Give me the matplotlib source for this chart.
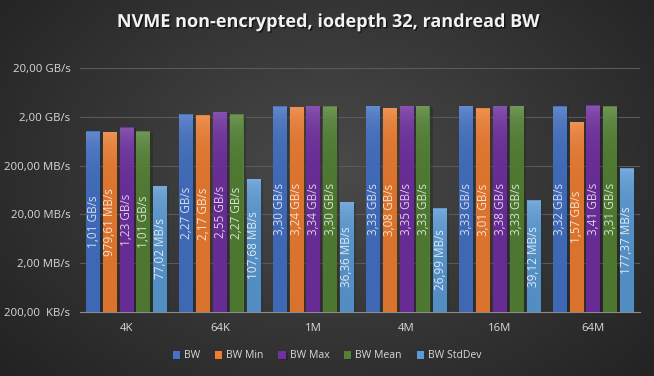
import numpy as np
import matplotlib.pyplot as plt
import matplotlib.patheffects as pe
from matplotlib.colors import to_rgb
from matplotlib.ticker import FixedLocator, NullLocator

categories = ["4K", "64K", "1M", "4M", "16M", "64M"]
series_names = ["BW", "BW Min", "BW Max", "BW Mean", "BW StdDev"]
# Werte in MB/s
bw = [1010, 2270, 3300, 3330, 3330, 3320]
bw_min = [979.61, 2170, 3240, 3080, 3010, 1570]
bw_max = [1230, 2550, 3340, 3350, 3380, 3410]
bw_mean = [1010, 2270, 3300, 3330, 3330, 3310]
bw_std = [77.02, 107.68, 36.36, 26.99, 39.12, 177.37]

tick_vals = [0.2, 2, 20, 200, 2000, 20000]
tick_labels = ["200,00  KB/s", "2,00 MB/s", "20,00 MB/s", "200,00 MB/s", "2,00 GB/s", "20,00 GB/s"]

colors = ["#4472C4", "#ED7D31", "#7030A0", "#548235", "#5B9BD5"]
label_colors = ["#d3dcf0", "#fbe0cc", "#ddccea", "#d5e3cc", "#dde9f5"]


def fmt(v):
    if v >= 1000:
        return f"{v / 1000:.2f} GB/s".replace(".", ",")
    return f"{v:.2f} MB/s".replace(".", ",")


def gradient(c):
    c = np.array(to_rgb(c))
    top = c + (1 - c) * 0.18
    bot = c * 0.92
    t = np.linspace(0, 1, 64)[:, None]
    g = top * (1 - t) + bot * t
    return g[:, None, :]


fig = plt.figure(figsize=(6.54, 3.76), dpi=100)
plt.rcParams["font.family"] = ["Open Sans", "DejaVu Sans"]

# Hintergrund: radialer Verlauf
bg = fig.add_axes([0, 0, 1, 1], zorder=-1)
yy, xx = np.mgrid[0:376, 0:654]
r = np.sqrt(((xx - 330) / 420.0) ** 2 + ((yy - 170) / 300.0) ** 2)
shade = np.clip(0.29 - 0.15 * r, 0.14, 0.30)
bg.imshow(np.dstack([shade, shade, shade]), aspect="auto", extent=[0, 1, 0, 1])
bg.axis("off")

ax = fig.add_axes([80 / 654, (376 - 312) / 376, 560 / 654, 244 / 376])
ax.set_facecolor("none")
ax.set_yscale("log")
ax.set_ylim(0.2, 20000)
ax.set_xlim(-0.5, len(categories) - 0.5)

x = np.arange(len(categories))
width = 0.15
pitch = 0.18
data = [bw, bw_min, bw_max, bw_mean, bw_std]

for i, (name, vals) in enumerate(zip(series_names, data)):
    pos = x + (i - 2) * pitch
    bars = ax.bar(pos, vals, width=width, bottom=0.2, color=colors[i], label=name, zorder=3)
    for b, p, v in zip(bars, pos, vals):
        b.set_path_effects([pe.SimplePatchShadow(offset=(1.5, -1), alpha=0.35), pe.Normal()])
        im = ax.imshow(gradient(colors[i]), extent=[p - width / 2, p + width / 2, 0.2, v],
                       aspect="auto", zorder=3.5, interpolation="bilinear")
        im.set_clip_path(b)
        ax.text(p, np.sqrt(0.2 * v), fmt(v), rotation=90, ha="center", va="center",
                fontsize=8.5, color=label_colors[i], zorder=4)

ax.set_ylim(0.2, 20000)
ax.set_xlim(-0.5, len(categories) - 0.5)
ax.yaxis.set_major_locator(FixedLocator(tick_vals))
ax.yaxis.set_minor_locator(NullLocator())
ax.set_yticklabels(tick_labels)
ax.set_xticks(x)
ax.set_xticklabels(categories)
ax.tick_params(axis="both", length=0, colors="#d9d9d9", labelsize=8.2)
ax.tick_params(axis="x", pad=8, labelsize=8.2)
ax.tick_params(axis="y", pad=7)
ax.grid(axis="y", color="#5a5a5a", linewidth=0.8, zorder=0)
for s in ["top", "right", "left"]:
    ax.spines[s].set_visible(False)
ax.spines["bottom"].set_color("#8c8c8c")

fig.text(0.5, 1 - 22 / 376, "NVME non-encrypted, iodepth 32, randread BW", ha="center", va="center",
         fontsize=13, fontweight="bold", color="#f2f2f2",
         path_effects=[pe.withSimplePatchShadow(offset=(1, -1), shadow_rgbFace="black", alpha=0.6)])

leg = fig.legend(loc="center", bbox_to_anchor=(0.5, 1 - 356 / 376), ncol=5, frameon=False,
                 fontsize=7.5, handlelength=0.7, handleheight=0.7, handletextpad=0.4, columnspacing=1.4)
for t in leg.get_texts():
    t.set_color("#d9d9d9")

fig.savefig("out.png", dpi=100)
